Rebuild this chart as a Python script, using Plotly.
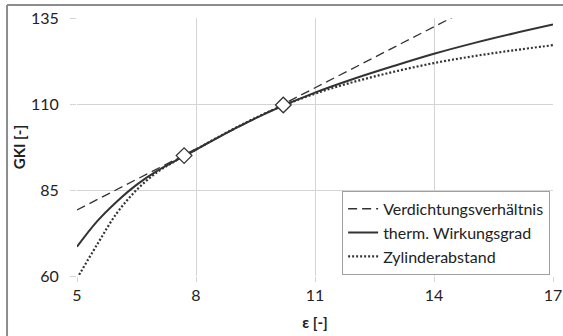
import plotly.graph_objects as go

# data
eps = [5, 5.5, 6, 6.5, 7, 7.5, 8, 9, 10, 11, 12, 13, 14, 15, 16, 17]
gki_wirkungsgrad = [68.5, 75.8, 81.6, 86.5, 90.4, 93.6, 96.7, 103.0, 108.5,
                    113.3, 117.4, 121.1, 124.6, 127.7, 130.5, 133.1]
gki_zylinder = [59.3, 69.0, 78.2, 85.0, 90.0, 93.6, 96.8, 103.1, 108.6,
                113.0, 116.5, 119.4, 121.9, 123.9, 125.6, 127.1]
eps_verdichtung = [5, 17]
gki_verdichtung = [79.2, 150.2]
eps_marker = [7.7, 10.2]
gki_marker = [95.0, 109.7]

x_ticks = [5, 8, 11, 14, 17]
y_ticks = [60, 85, 110, 135]

line_col = '#333333'
grid_col = '#d4d4d4'
font_family = 'Lato, Open Sans, sans-serif'

fig = go.Figure()

fig.add_trace(go.Scatter(
    x=eps_verdichtung, y=gki_verdichtung, mode='lines',
    name='Verdichtungsverhältnis',
    line=dict(color=line_col, width=1.3, dash='9px,5px')
))
fig.add_trace(go.Scatter(
    x=eps, y=gki_wirkungsgrad, mode='lines',
    name='therm. Wirkungsgrad',
    line=dict(color=line_col, width=2, shape='spline')
))
fig.add_trace(go.Scatter(
    x=eps, y=gki_zylinder, mode='lines',
    name='Zylinderabstand',
    line=dict(color=line_col, width=2.2, dash='2px,2px', shape='spline')
))
fig.add_trace(go.Scatter(
    x=eps_marker, y=gki_marker, mode='markers',
    marker=dict(symbol='diamond', size=12, color='white',
                line=dict(color=line_col, width=1.3)),
    showlegend=False, hoverinfo='skip'
))

# outer frame (left and top edges visible in the reference)
fig.add_shape(type='line', xref='paper', yref='paper',
              x0=-0.147, x1=-0.147, y0=-0.3, y1=1.05,
              line=dict(color='#8c8c8c', width=2))
fig.add_shape(type='line', xref='paper', yref='paper',
              x0=-0.147, x1=1.2, y0=1.05, y1=1.05,
              line=dict(color='#8c8c8c', width=2))

fig.update_layout(
    width=563, height=336,
    margin=dict(l=77, r=10, t=18, b=60),
    plot_bgcolor='white', paper_bgcolor='white',
    font=dict(family=font_family, size=16, color='#222222'),
    xaxis=dict(
        range=[5, 17], tickvals=x_ticks, showgrid=True, gridcolor=grid_col,
        zeroline=False, showline=False, ticks='outside', ticklen=5,
        tickcolor=grid_col, tickfont=dict(size=16), automargin=False,
        title=dict(text='<b>ε [-]</b>', font=dict(size=15), standoff=14)
    ),
    yaxis=dict(
        range=[60, 135], tickvals=y_ticks, showgrid=True, gridcolor=grid_col,
        zeroline=False, showline=False, ticks='outside', ticklen=6,
        tickcolor=grid_col, tickfont=dict(size=16), automargin=False,
        ticklabelstandoff=8,
        title=dict(text='<b>GKI [-]</b>', font=dict(size=15), standoff=1)
    ),
    legend=dict(
        x=0.557, y=0.33, xanchor='left', yanchor='top',
        bgcolor='white', bordercolor='#a0a0a0', borderwidth=1,
        font=dict(size=16), tracegroupgap=0, itemwidth=30
    )
)

fig.write_html("out.html",
               config={'displayModeBar': False},
               post_script="document.body.style.margin='0';"
                           "document.body.style.overflow='hidden';")
